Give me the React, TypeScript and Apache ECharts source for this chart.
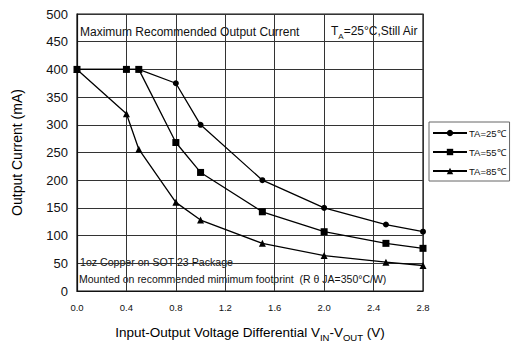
import React, { useEffect, useRef } from "react";
import * as echarts from "echarts";

const voltages = [0, 0.4, 0.5, 0.8, 1.0, 1.5, 2.0, 2.5, 2.8];
const ta25 = [400, 400, 400, 375, 300, 200, 150, 120, 107];
const ta55 = [400, 400, 400, 268, 214, 143, 107, 86, 77];
const ta85 = [400, 320, 256, 160, 128, 86, 64, 52, 46];
const seriesNames = ["TA=25\u2103", "TA=55\u2103", "TA=85\u2103"];
const seriesSymbols = ["circle", "rect", "triangle"];
const xTicks = [0, 0.4, 0.8, 1.2, 1.6, 2.0, 2.4, 2.8];
const yTicks = [0, 50, 100, 150, 200, 250, 300, 350, 400, 450, 500];

const FONT = "Liberation Sans, Arial, sans-serif";

export default function App() {
  const ref = useRef<HTMLDivElement>(null);
  useEffect(() => {
    if (!ref.current) return;
    const chart = echarts.init(ref.current, null, { renderer: "svg" });
    const values = [ta25, ta55, ta85];
    const symbolSizes = [6, 7, 7];
    chart.setOption({
      animation: false,
      backgroundColor: "#fff",
      textStyle: { fontFamily: FONT },
      grid: { left: 77, top: 14, right: 89, bottom: 50, show: true, borderColor: "#111", borderWidth: 1.2 },
      xAxis: {
        type: "value",
        min: xTicks[0],
        max: xTicks[xTicks.length - 1],
        interval: 0.4,
        name: "{n|Input-Output Voltage Differential V}{s|IN}{n|-V}{s|OUT}{n| (V)}",
        nameLocation: "middle",
        nameGap: 34,
        nameTextStyle: {
          rich: {
            n: { fontSize: 13.5, fontFamily: FONT, color: "#000", verticalAlign: "bottom" },
            s: { fontSize: 9.5, fontFamily: FONT, color: "#000", verticalAlign: "bottom", padding: [0, 0, -3, 0] },
          },
        },
        axisLine: { show: true, lineStyle: { color: "#111", width: 1.2 } },
        axisTick: { show: false },
        axisLabel: { fontSize: 9.5, color: "#111", margin: 11, formatter: (v: number) => v.toFixed(1) },
        splitLine: { show: true, lineStyle: { color: "#333", width: 1 } },
      },
      yAxis: {
        type: "value",
        min: yTicks[0],
        max: yTicks[yTicks.length - 1],
        interval: 50,
        name: "Output Current (mA)",
        nameLocation: "middle",
        nameGap: 53,
        nameTextStyle: { fontSize: 14, color: "#000" },
        axisLine: { show: true, lineStyle: { color: "#111", width: 1.2 } },
        axisTick: { show: false },
        axisLabel: { fontSize: 13, color: "#111", margin: 9 },
        splitLine: { show: true, lineStyle: { color: "#333", width: 1 } },
      },
      legend: {
        orient: "vertical",
        left: 429,
        top: 122,
        data: seriesNames,
        itemWidth: 34,
        itemHeight: 8,
        itemGap: 9,
        padding: [6, 4, 5, 3],
        borderColor: "#666",
        borderWidth: 1,
        textStyle: { fontSize: 9.5, color: "#111", padding: [0, 0, 0, -3] },
      },
      graphic: [
        {
          type: "text",
          left: 80,
          top: 26,
          style: { text: "Maximum Recommended Output Current", fontSize: 12, fontFamily: FONT, fill: "#111" },
        },
        {
          type: "text",
          left: 331,
          top: 25,
          style: {
            text: "{n|T}{s|A}{n|=25\u00B0C,Still Air}",
            rich: {
              n: { fontSize: 12, fontFamily: FONT, fill: "#111", verticalAlign: "bottom" },
              s: { fontSize: 8, fontFamily: FONT, fill: "#111", verticalAlign: "bottom", padding: [0, 0, -3, 0] },
            },
          },
        },
        {
          type: "text",
          left: 80,
          top: 256,
          style: { text: "1oz Copper on SOT 23 Package", fontSize: 10.6, fontFamily: FONT, fill: "#111" },
        },
        {
          type: "text",
          left: 79,
          top: 273,
          style: {
            text: "Mounted on recommended mimimum footprint  (R \u03B8 JA=350\u00B0C/W)",
            fontSize: 10.5,
            fontFamily: FONT,
            fill: "#111",
          },
        },
      ],
      series: seriesNames.map((name, i) => ({
        name,
        type: "line",
        data: voltages.map((v, j) => [v, values[i][j]]),
        symbol: seriesSymbols[i],
        symbolSize: symbolSizes[i],
        showAllSymbol: true,
        lineStyle: { color: "#000", width: 1.3 },
        itemStyle: { color: "#000" },
        z: 3 + i,
      })),
    });
    return () => chart.dispose();
  }, []);
  return <div ref={ref} style={{ width: 512, height: 347, position: "absolute", left: 0, top: 0 }} />;
}
